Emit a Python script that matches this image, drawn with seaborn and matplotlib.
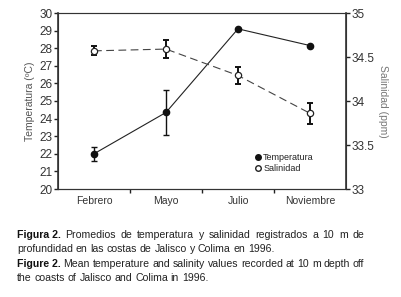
import matplotlib
matplotlib.use("Agg")
import matplotlib.pyplot as plt
import seaborn as sns
import pandas as pd

months = ["Febrero", "Mayo", "Julio", "Noviembre"]
temp = [22.0, 24.35, 29.1, 28.15]
temp_err = [0.4, 1.3, 0.0, 0.0]
sal = [34.57, 34.59, 34.29, 33.86]
sal_err = [0.05, 0.1, 0.1, 0.12]

sns.set_theme(style="white")
FAM = ["Liberation Sans Narrow", "Liberation Sans", "DejaVu Sans"]
plt.rcParams["font.family"] = FAM
TXT = "#333333"

fig = plt.figure(figsize=(4.02, 2.97), dpi=100)
ax = fig.add_axes([58/402, 1-189/297, 288/402, 176/297])
ax2 = ax.twinx()

df = pd.DataFrame({"Mes": months, "Temperatura": temp, "Salinidad": sal})
pos = list(range(len(months)))

sns.lineplot(data=df, x="Mes", y="Temperatura", ax=ax, color="#222222",
             lw=0.8, sort=False, zorder=3)
ax.errorbar(pos, temp, yerr=temp_err, fmt="none", ecolor="#111111",
            elinewidth=1.0, capsize=2, capthick=1.0, zorder=3)
ax.plot(pos, temp, "o", ms=4.5, mfc="#111111", mec="#111111", zorder=4)

sns.lineplot(data=df, x="Mes", y="Salinidad", ax=ax2, color="#444444",
             lw=0.8, sort=False, dashes=False, zorder=3)
ax2.lines[0].set_dashes([7, 4])
ax2.errorbar(pos, sal, yerr=sal_err, fmt="none", ecolor="#111111",
             elinewidth=1.4, capsize=2, capthick=1.4, zorder=3)
ax2.plot(pos, sal, "o", ms=4.5, mfc="white", mec="#222222", mew=0.9, zorder=4)

ax.set_xlim(-0.5, 3.5)
ax.set_ylim(20, 30)
ax2.set_ylim(33, 35)
ax.set_yticks(range(20, 31))
ax2.set_yticks([33, 33.5, 34, 34.5, 35])
ax2.set_yticklabels(["33", "33.5", "34", "34.5", "35"])
ax.set_xticks([0.5, 1.5, 2.5], minor=False)
ax.set_xticklabels([])
ax.set_xticks(pos, minor=True)
ax.set_xticklabels(months, minor=True)
ax.tick_params(axis="x", which="major", length=3, width=1, color="#222222", direction="out", bottom=True)
ax.tick_params(axis="x", which="minor", length=0, labelsize=7.5, labelcolor=TXT, pad=5)
ax.tick_params(axis="y", length=3, width=1, color="#222222", direction="out", left=True,
               labelsize=8.5, labelcolor=TXT, pad=1)
ax2.tick_params(axis="y", length=3, width=1, color="#222222", direction="out", right=True,
                labelsize=8.5, labelcolor=TXT, pad=1)
ax.set_xlabel("")
ax.set_ylabel("Temperatura (ºC)", fontsize=7.5, color="#555555", labelpad=3)
ax2.set_ylabel("Salinidad (ppm)", fontsize=7.5, color="#777777", rotation=270, labelpad=10)
for a in (ax, ax2):
    for s in a.spines.values():
        s.set_color("#333333")
        s.set_linewidth(0.8)
ax.spines["left"].set_linewidth(1.2)
ax2.spines["right"].set_linewidth(1.2)
ax.spines["top"].set_color("#777777")

# legend
from matplotlib.lines import Line2D
handles = [Line2D([], [], marker="o", ls="none", ms=4, mfc="#111111", mec="#111111"),
           Line2D([], [], marker="o", ls="none", ms=4, mfc="white", mec="#222222")]
ax2.legend(handles, ["Temperatura", "Salinidad"], loc="lower left",
           bbox_to_anchor=(0.665, 0.07), frameon=False, fontsize=6.5,
           handletextpad=0.1, labelspacing=0.2, borderaxespad=0, handlelength=1.0,
           labelcolor="#222222")

# caption (lines 1 and 3 justified)
fig.canvas.draw()
r = fig.canvas.get_renderer()
FS = 7.6
lines = [
    ("Figura 2.", "Promedios de temperatura y salinidad registrados a 10 m de", 235, True),
    (None, "profundidad en las costas de Jalisco y Colima en 1996.", 249, False),
    ("Figure 2.", "Mean temperature and salinity values recorded at 10 m depth off", 264, True),
    (None, "the coasts of Jalisco and Colima in 1996.", 278, False),
]
x0, x1 = 17, 364
for bold, rest, y, just in lines:
    words = []
    if bold:
        words.append((bold, True))
    words += [(w, False) for w in rest.split(" ")]
    texts = []
    for w, b in words:
        t = fig.text(0, 1-y/297, w, fontsize=FS, va="center", ha="left",
                     color="#111111" if b else "#222222",
                     fontweight="bold" if b else "normal",
                     family=["Liberation Sans", "DejaVu Sans"])
        texts.append(t)
    widths = [t.get_window_extent(renderer=r).width for t in texts]
    space = fig.text(0, 0, "a b", fontsize=FS).get_window_extent(renderer=r).width - \
        fig.text(0, 0, "ab", fontsize=FS).get_window_extent(renderer=r).width
    for t in fig.texts[-2:]:
        pass
    if just:
        gap = (x1 - x0 - sum(widths)) / (len(texts) - 1)
    else:
        gap = space
    x = x0
    for t, w in zip(texts, widths):
        t.set_x(x/402)
        x += w + gap
# remove helper texts used for measuring space
for t in list(fig.texts):
    if t.get_text() in ("a b", "ab"):
        t.remove()

fig.savefig("out.png", dpi=100)
